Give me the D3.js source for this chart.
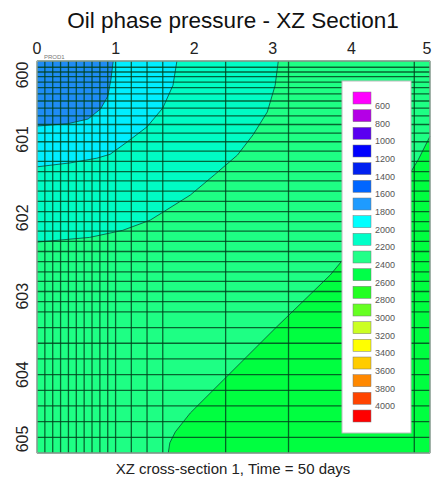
<!DOCTYPE html>
<html>
<head>
<meta charset="utf-8">
<script src="https://cdn.jsdelivr.net/npm/d3@7"></script>
<style>
  body { margin: 0; background: #fff; }
  text { font-family: "Liberation Sans", Arial, sans-serif; }
</style>
</head>
<body>
<script>
// ---- data ----
var xTicks = [0, 1, 2, 3, 4, 5];
var zTicks = [600, 601, 602, 603, 604, 605];

// cell edges of the grid (x in units, z = depth)
var colEdges = [0, 0.1, 0.2, 0.3, 0.4, 0.5, 0.6, 0.7, 0.8, 0.9, 1.0, 1.2, 1.4, 1.6, 2.4, 3.2, 4.8, 5.0];
var rowEdges = [600, 600.08, 600.14, 600.20, 600.27, 600.34, 600.42, 600.51, 600.60, 600.70, 600.81, 600.92,
  601.03, 601.15, 601.28, 601.41, 601.53, 601.66, 601.79, 601.92, 602.05, 602.17, 602.30, 602.43,
  602.56, 602.69, 602.81, 602.94, 603.07, 603.2, 603.4, 603.6, 603.8, 604.0, 604.2, 604.4, 604.6, 604.8, 605];

// contour boundaries [x, depth]
var contour1800 = [[0.97, 600], [0.94, 600.24], [0.90, 600.45], [0.81, 600.61], [0.65, 600.74], [0.39, 600.80], [0, 600.83]];
var contour2000 = [[1.78, 600], [1.73, 600.31], [1.60, 600.60], [1.40, 600.84], [1.15, 601.03], [0.93, 601.19], [0.76, 601.24], [0.42, 601.30], [0, 601.35]];
var contour2200 = [[3.07, 600], [3.03, 600.31], [2.93, 600.65], [2.75, 600.94], [2.55, 601.20], [2.26, 601.45], [1.95, 601.71], [1.44, 602.03], [1.09, 602.16], [0.67, 602.25], [0, 602.31]];
var contour2400 = [[1.67, 605], [1.69, 604.87], [1.76, 604.73], [1.95, 604.49], [2.37, 604.07], [3.03, 603.41], [3.73, 602.73], [4.26, 602.09], [4.68, 601.54], [4.85, 601.26], [5.0, 600.96]];

var regionColors = ["#1e8cf5", "#00eeff", "#00fcc4", "#1eff84", "#00ff40"];

var legendLabels = ["600", "800", "1000", "1200", "1400", "1600", "1800", "2000", "2200", "2400",
  "2600", "2800", "3000", "3200", "3400", "3600", "3800", "4000"];
var legendColors = ["#ff00ff", "#b400e6", "#5a00f0", "#0000ff", "#0020f0", "#0066ff", "#1e9bff", "#00ffff",
  "#00ffc8", "#22ff88", "#00ff48", "#22ff22", "#66ff22", "#ccff22", "#ffff00", "#ffcc00", "#ff8800", "#ff4400", "#ff0000"];

// ---- layout ----
var W = 434, H = 485;
var x = d3.scaleLinear().domain([0, 5]).range([37, 430]);
var y = d3.scaleLinear().domain([600, 605]).range([61, 453]);

var svg = d3.select("body").append("svg")
  .attr("width", W)
  .attr("height", H);

var line = d3.line()
  .x(function(d) { return x(d[0]); })
  .y(function(d) { return y(d[1]); });

var plot = svg.append("g");

// base region
plot.append("rect")
  .attr("x", x(0)).attr("y", y(600))
  .attr("width", x(5) - x(0)).attr("height", y(605) - y(600))
  .attr("fill", regionColors[0]);

// regions outside each contour (top-left well contours)
[contour1800, contour2000, contour2200].forEach(function(c, i) {
  var poly = c.concat([[0, 605], [5, 605], [5, 600]]);
  plot.append("path")
    .attr("d", line(poly) + "Z")
    .attr("fill", regionColors[i + 1]);
});
// bottom-right region
plot.append("path")
  .attr("d", line(contour2400.concat([[5, 605]])) + "Z")
  .attr("fill", regionColors[4]);

// contour lines
[contour1800, contour2000, contour2200, contour2400].forEach(function(c) {
  plot.append("path")
    .attr("d", line(c))
    .attr("fill", "none")
    .attr("stroke", "#0a4a3a")
    .attr("stroke-width", 0.8);
});

// grid cells
var grid = svg.append("g")
  .attr("stroke", "#00401c")
  .attr("stroke-opacity", 0.8)
  .attr("stroke-width", 1.3);

grid.selectAll(".col")
  .data(colEdges)
  .enter().append("line")
  .attr("x1", function(d) { return x(d); })
  .attr("x2", function(d) { return x(d); })
  .attr("y1", y(600)).attr("y2", y(605));

grid.selectAll(".row")
  .data(rowEdges)
  .enter().append("line")
  .attr("y1", function(d) { return y(d); })
  .attr("y2", function(d) { return y(d); })
  .attr("x1", x(0)).attr("x2", x(5));

// plot frame
svg.append("rect")
  .attr("x", x(0)).attr("y", y(600))
  .attr("width", x(5) - x(0)).attr("height", y(605) - y(600))
  .attr("fill", "none")
  .attr("stroke", "#c8c8c8");

// ---- axes labels ----
svg.selectAll(".xt")
  .data(xTicks)
  .enter().append("text")
  .attr("x", function(d) { return Math.min(x(d), 427); })
  .attr("y", 54)
  .attr("text-anchor", "middle")
  .attr("font-size", 16)
  .attr("fill", "#222")
  .text(function(d) { return d; });

svg.selectAll(".yt")
  .data(zTicks)
  .enter().append("text")
  .attr("transform", function(d) {
    var cy = Math.max(y(600) + 14, Math.min(y(605) - 14, y(d)));
    return "translate(22," + cy + ") rotate(-90)";
  })
  .attr("text-anchor", "middle")
  .attr("dy", "0.35em")
  .attr("font-size", 16)
  .attr("fill", "#222")
  .text(function(d) { return d; });

// well label
svg.append("text")
  .attr("x", 44).attr("y", 59)
  .attr("font-size", 6)
  .attr("fill", "#777")
  .text("PROD1");

// title and caption
svg.append("text")
  .attr("x", 233).attr("y", 28)
  .attr("text-anchor", "middle")
  .attr("font-size", 22.5)
  .attr("fill", "#111")
  .text("Oil phase pressure - XZ Section1");

svg.append("text")
  .attr("x", 233).attr("y", 474)
  .attr("text-anchor", "middle")
  .attr("font-size", 15)
  .attr("fill", "#222")
  .text("XZ cross-section 1, Time = 50 days");

// ---- legend ----
var legend = svg.append("g");
legend.append("rect")
  .attr("x", 342).attr("y", 81)
  .attr("width", 69).attr("height", 352)
  .attr("fill", "#fff")
  .attr("stroke", "#bbb");

var ly = d3.scaleLinear().domain([0, 18]).range([92, 410]);

legend.selectAll(".sw")
  .data(legendColors)
  .enter().append("rect")
  .attr("x", 353)
  .attr("y", function(d, i) { return ly(i); })
  .attr("width", 18).attr("height", 12)
  .attr("fill", function(d) { return d; })
  .attr("stroke", "#777")
  .attr("stroke-width", 0.5);

legend.selectAll(".lb")
  .data(legendLabels)
  .enter().append("text")
  .attr("x", 375)
  .attr("y", function(d, i) { return ly(i) + 17; })
  .attr("font-size", 9)
  .attr("fill", "#555")
  .text(function(d) { return d; });
</script>
</body>
</html>
